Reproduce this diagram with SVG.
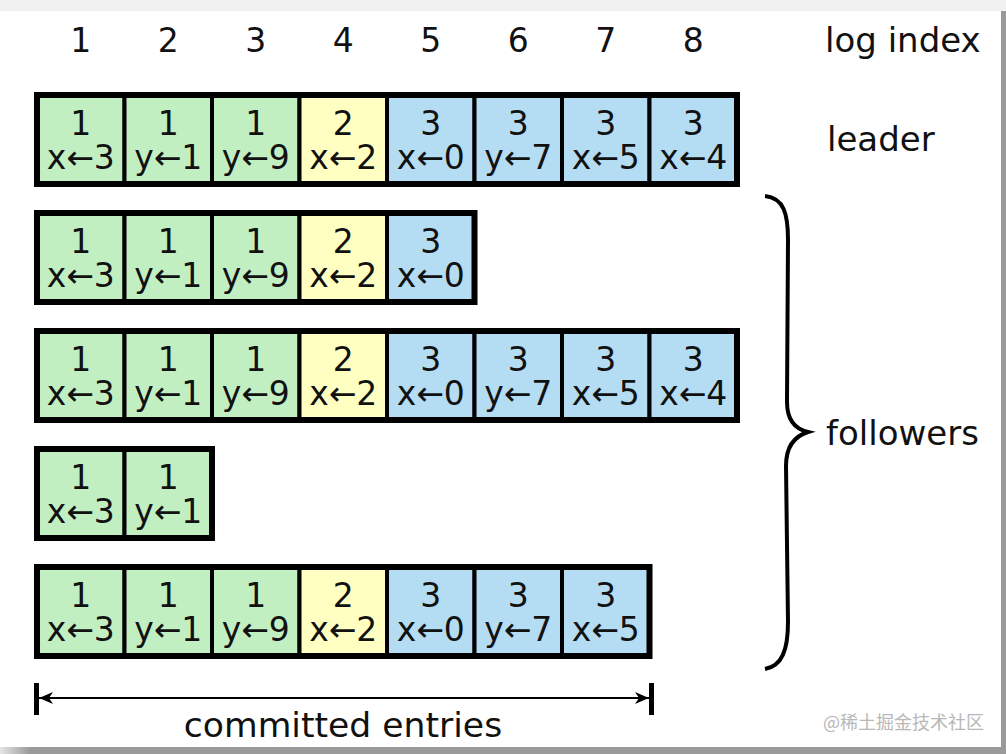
<svg xmlns="http://www.w3.org/2000/svg" width="1006" height="754" viewBox="0 0 1006 754">
<style>
text{font-family:"DejaVu Sans","Noto Sans",sans-serif;fill:#111}
.n{font-size:33px;text-anchor:middle}
.lbl{font-size:34px}
.g{fill:#c2efc2}
.y{fill:#ffffc2}
.b{fill:#b4dcf2}
.cell rect{stroke:#000;stroke-width:4}
.frame{fill:none;stroke:#000;stroke-width:6}
.wm{font-family:"Noto Sans CJK SC","DejaVu Sans",sans-serif;font-size:18px;fill:#b8b8b8}
</style>
<defs>
<linearGradient id="bot" x1="0" x2="1" y1="0" y2="0">
<stop offset="0" stop-color="#e6e6e6"/><stop offset="0.03" stop-color="#9a9a9a"/><stop offset="1" stop-color="#9a9a9a"/>
</linearGradient>
<marker id="ah" viewBox="0 0 14 12" refX="14" refY="6" markerWidth="14" markerHeight="12" markerUnits="userSpaceOnUse" orient="auto-start-reverse">
<path d="M0,0 L14,6 L0,12 L4,6 Z" fill="#000"/>
</marker>
</defs>
<rect width="1006" height="754" fill="#fff"/>
<rect x="0" y="0" width="1006" height="11" fill="#f1f1f1"/>
<rect x="1001" y="11" width="5" height="743" fill="#9a9a9a"/>
<rect x="0" y="747" width="1006" height="7" fill="url(#bot)"/>

<g id="header">
<text class="n" x="80.75" y="52">1</text>
<text class="n" x="168.25" y="52">2</text>
<text class="n" x="255.75" y="52">3</text>
<text class="n" x="343.25" y="52">4</text>
<text class="n" x="430.75" y="52">5</text>
<text class="n" x="518.25" y="52">6</text>
<text class="n" x="605.75" y="52">7</text>
<text class="n" x="693.25" y="52">8</text>
<text class="lbl" x="825" y="52">log index</text>
</g>

<g id="leader">
<g id="r1c1" class="cell"><rect class="g" x="37" y="95" width="87.5" height="89"/><text class="n" x="80.75" y="135">1<tspan x="80.75" dy="34">x←3</tspan></text></g>
<g id="r1c2" class="cell"><rect class="g" x="124.5" y="95" width="87.5" height="89"/><text class="n" x="168.25" y="135">1<tspan x="168.25" dy="34">y←1</tspan></text></g>
<g id="r1c3" class="cell"><rect class="g" x="212" y="95" width="87.5" height="89"/><text class="n" x="255.75" y="135">1<tspan x="255.75" dy="34">y←9</tspan></text></g>
<g id="r1c4" class="cell"><rect class="y" x="299.5" y="95" width="87.5" height="89"/><text class="n" x="343.25" y="135">2<tspan x="343.25" dy="34">x←2</tspan></text></g>
<g id="r1c5" class="cell"><rect class="b" x="387" y="95" width="87.5" height="89"/><text class="n" x="430.75" y="135">3<tspan x="430.75" dy="34">x←0</tspan></text></g>
<g id="r1c6" class="cell"><rect class="b" x="474.5" y="95" width="87.5" height="89"/><text class="n" x="518.25" y="135">3<tspan x="518.25" dy="34">y←7</tspan></text></g>
<g id="r1c7" class="cell"><rect class="b" x="562" y="95" width="87.5" height="89"/><text class="n" x="605.75" y="135">3<tspan x="605.75" dy="34">x←5</tspan></text></g>
<g id="r1c8" class="cell"><rect class="b" x="649.5" y="95" width="87.5" height="89"/><text class="n" x="693.25" y="135">3<tspan x="693.25" dy="34">x←4</tspan></text></g>
<rect class="frame" x="37" y="95" width="700" height="89"/>
<text class="lbl" x="827" y="151">leader</text>
</g>

<g id="follower1">
<g id="r2c1" class="cell"><rect class="g" x="37" y="213" width="87.5" height="89"/><text class="n" x="80.75" y="253">1<tspan x="80.75" dy="34">x←3</tspan></text></g>
<g id="r2c2" class="cell"><rect class="g" x="124.5" y="213" width="87.5" height="89"/><text class="n" x="168.25" y="253">1<tspan x="168.25" dy="34">y←1</tspan></text></g>
<g id="r2c3" class="cell"><rect class="g" x="212" y="213" width="87.5" height="89"/><text class="n" x="255.75" y="253">1<tspan x="255.75" dy="34">y←9</tspan></text></g>
<g id="r2c4" class="cell"><rect class="y" x="299.5" y="213" width="87.5" height="89"/><text class="n" x="343.25" y="253">2<tspan x="343.25" dy="34">x←2</tspan></text></g>
<g id="r2c5" class="cell"><rect class="b" x="387" y="213" width="87.5" height="89"/><text class="n" x="430.75" y="253">3<tspan x="430.75" dy="34">x←0</tspan></text></g>
<rect class="frame" x="37" y="213" width="437.5" height="89"/>
</g>

<g id="follower2">
<g id="r3c1" class="cell"><rect class="g" x="37" y="331" width="87.5" height="89"/><text class="n" x="80.75" y="371">1<tspan x="80.75" dy="34">x←3</tspan></text></g>
<g id="r3c2" class="cell"><rect class="g" x="124.5" y="331" width="87.5" height="89"/><text class="n" x="168.25" y="371">1<tspan x="168.25" dy="34">y←1</tspan></text></g>
<g id="r3c3" class="cell"><rect class="g" x="212" y="331" width="87.5" height="89"/><text class="n" x="255.75" y="371">1<tspan x="255.75" dy="34">y←9</tspan></text></g>
<g id="r3c4" class="cell"><rect class="y" x="299.5" y="331" width="87.5" height="89"/><text class="n" x="343.25" y="371">2<tspan x="343.25" dy="34">x←2</tspan></text></g>
<g id="r3c5" class="cell"><rect class="b" x="387" y="331" width="87.5" height="89"/><text class="n" x="430.75" y="371">3<tspan x="430.75" dy="34">x←0</tspan></text></g>
<g id="r3c6" class="cell"><rect class="b" x="474.5" y="331" width="87.5" height="89"/><text class="n" x="518.25" y="371">3<tspan x="518.25" dy="34">y←7</tspan></text></g>
<g id="r3c7" class="cell"><rect class="b" x="562" y="331" width="87.5" height="89"/><text class="n" x="605.75" y="371">3<tspan x="605.75" dy="34">x←5</tspan></text></g>
<g id="r3c8" class="cell"><rect class="b" x="649.5" y="331" width="87.5" height="89"/><text class="n" x="693.25" y="371">3<tspan x="693.25" dy="34">x←4</tspan></text></g>
<rect class="frame" x="37" y="331" width="700" height="89"/>
</g>

<g id="follower3">
<g id="r4c1" class="cell"><rect class="g" x="37" y="449" width="87.5" height="89"/><text class="n" x="80.75" y="489">1<tspan x="80.75" dy="34">x←3</tspan></text></g>
<g id="r4c2" class="cell"><rect class="g" x="124.5" y="449" width="87.5" height="89"/><text class="n" x="168.25" y="489">1<tspan x="168.25" dy="34">y←1</tspan></text></g>
<rect class="frame" x="37" y="449" width="175" height="89"/>
</g>

<g id="follower4">
<g id="r5c1" class="cell"><rect class="g" x="37" y="567" width="87.5" height="89"/><text class="n" x="80.75" y="607">1<tspan x="80.75" dy="34">x←3</tspan></text></g>
<g id="r5c2" class="cell"><rect class="g" x="124.5" y="567" width="87.5" height="89"/><text class="n" x="168.25" y="607">1<tspan x="168.25" dy="34">y←1</tspan></text></g>
<g id="r5c3" class="cell"><rect class="g" x="212" y="567" width="87.5" height="89"/><text class="n" x="255.75" y="607">1<tspan x="255.75" dy="34">y←9</tspan></text></g>
<g id="r5c4" class="cell"><rect class="y" x="299.5" y="567" width="87.5" height="89"/><text class="n" x="343.25" y="607">2<tspan x="343.25" dy="34">x←2</tspan></text></g>
<g id="r5c5" class="cell"><rect class="b" x="387" y="567" width="87.5" height="89"/><text class="n" x="430.75" y="607">3<tspan x="430.75" dy="34">x←0</tspan></text></g>
<g id="r5c6" class="cell"><rect class="b" x="474.5" y="567" width="87.5" height="89"/><text class="n" x="518.25" y="607">3<tspan x="518.25" dy="34">y←7</tspan></text></g>
<g id="r5c7" class="cell"><rect class="b" x="562" y="567" width="87.5" height="89"/><text class="n" x="605.75" y="607">3<tspan x="605.75" dy="34">x←5</tspan></text></g>
<rect class="frame" x="37" y="567" width="612.5" height="89"/>
</g>

<g id="followers-label">
<text class="lbl" x="826" y="445">followers</text>
</g>

<g id="connectors">
<path d="M765,196 C784,198 788,214 788,240 L787,402 C787,420 795,429 808,432 C795,436 786,446 786,466 L788,622 C788,650 782,666 765,669" fill="none" stroke="#000" stroke-width="4"/>
<rect x="34" y="683" width="5" height="32" fill="#000"/>
<rect x="649" y="683" width="5" height="32" fill="#000"/>
<line x1="39" y1="698" x2="649" y2="698" stroke="#000" stroke-width="2" marker-start="url(#ah)" marker-end="url(#ah)"/>
<text x="343" y="737" text-anchor="middle" style="font-size:34.6px">committed entries</text>
</g>

<text class="wm" x="823" y="729">@稀土掘金技术社区</text>
</svg>
